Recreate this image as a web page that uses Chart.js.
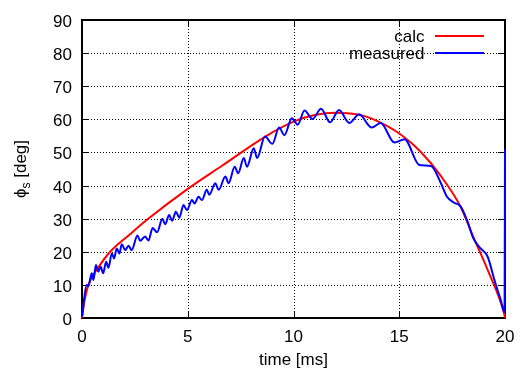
<!DOCTYPE html>
<html><head><meta charset="utf-8">
<script src="https://cdn.jsdelivr.net/npm/chart.js@4.4.1/dist/chart.umd.min.js"></script>
<style>html,body{margin:0;padding:0;background:#fff;overflow:hidden}</style>
</head><body>
<canvas id="c" width="517" height="368"></canvas>
<script>
// ---- data ----
const xTicks = [0, 5, 10, 15, 20];
const yTicks = [0, 10, 20, 30, 40, 50, 60, 70, 80, 90];
const seriesNames = ['calc', 'measured'];
const xTitle = 'time [ms]';
const yTitleMain = 'ϕ', yTitleSub = 's', yTitleRest = ' [deg]';

const calcT = [0, 0.1, 0.3, 0.78, 1.33, 2.27, 3.1, 5, 6.6, 8.67, 10, 11, 12, 13, 13.7, 15.05, 16, 16.93, 17.9, 18.5, 19.18, 19.95, 20];
const calcY = [0, 4.5, 10, 15.3, 20, 25.3, 29.8, 39, 45.9, 54.8, 59.3, 61.3, 62, 61.5, 60.2, 55.5, 50.3, 43.2, 33.6, 24.5, 14.5, 1.5, 0];

const measT = [0, 0.22, 0.30, 0.46, 0.54, 0.66, 0.77, 0.88, 1.0, 1.14, 1.25, 1.41, 1.52, 1.64, 1.77, 1.88, 2.04, 2.2, 2.35, 2.62, 2.75, 2.98, 3.14, 3.34, 3.55, 3.8, 3.93, 4.12, 4.26, 4.44, 4.6, 4.8, 4.96, 5.2, 5.32, 5.51, 5.67, 5.9, 6.02, 6.3, 6.46, 6.78, 6.93, 7.22, 7.38, 7.65, 7.8, 8.12, 8.28, 8.65, 9.0, 9.32, 9.57, 9.92, 10.2, 10.52, 10.9, 11.3, 11.73, 12.15, 12.64, 13.1, 13.7, 14.12, 14.77, 15.25, 15.95, 16.5, 16.97, 17.25, 17.57, 17.9, 18.2, 18.5, 18.8, 19.18, 19.5, 19.8, 19.98, 20];
const measY = [0.4, 10, 9.6, 13.5, 11.5, 16, 14, 15.5, 13.5, 17, 15.2, 19.5, 18, 21, 19.5, 22.3, 20.5, 21.8, 20.5, 24.9, 23.3, 24.6, 23.4, 27.2, 25.9, 30.0, 28.3, 31.1, 29.4, 32.1, 30.3, 34.1, 32.6, 35.6, 34.6, 36.6, 35.6, 38.7, 37.2, 40.7, 38.7, 42.7, 40.7, 45.7, 43.7, 48.3, 45.7, 51.3, 48.3, 54.8, 52.6, 57.5, 55.2, 60.3, 58.4, 62.7, 60.1, 63.2, 59.1, 62.8, 58.9, 61.5, 57.5, 58.9, 53, 54, 46.2, 45.9, 40.7, 36.7, 34.9, 33.7, 29.6, 24.1, 21.3, 18.5, 11.5, 5.4, 1.8, 51];

const colors = ['#ff0000', '#0000ff'];
const FONT_FAMILY = '"Liberation Sans", Arial, Helvetica, sans-serif';
const FONT = '17px ' + FONT_FAMILY;

const frame = {
  id: 'frame',
  beforeDatasetsDraw(chart) {
    const { ctx, chartArea: a, scales: { x, y } } = chart;
    ctx.save();
    // dotted grid
    ctx.strokeStyle = '#000';
    ctx.lineWidth = 1;
    ctx.setLineDash([1, 2]);
    ctx.beginPath();
    xTicks.forEach(v => {
      if (v <= x.min || v >= x.max) return;
      const px = Math.round(x.getPixelForValue(v)) + 0.5;
      ctx.moveTo(px, a.top); ctx.lineTo(px, a.bottom);
    });
    yTicks.forEach(v => {
      if (v <= y.min || v >= y.max) return;
      const py = Math.round(y.getPixelForValue(v)) + 0.5;
      ctx.moveTo(a.left, py); ctx.lineTo(a.right, py);
    });
    ctx.stroke();
    ctx.setLineDash([]);
    // inward tick marks on all sides
    ctx.beginPath();
    xTicks.forEach(v => {
      if (v <= x.min || v >= x.max) return;
      const px = Math.round(x.getPixelForValue(v)) + 0.5;
      ctx.moveTo(px, a.bottom); ctx.lineTo(px, a.bottom - 7);
      ctx.moveTo(px, a.top); ctx.lineTo(px, a.top + 7);
    });
    yTicks.forEach(v => {
      if (v <= y.min || v >= y.max) return;
      const py = Math.round(y.getPixelForValue(v)) + 0.5;
      ctx.moveTo(a.left, py); ctx.lineTo(a.left + 7, py);
      ctx.moveTo(a.right, py); ctx.lineTo(a.right - 7, py);
    });
    ctx.stroke();
    // border
    ctx.lineWidth = 2;
    ctx.strokeRect(a.left, a.top, a.right - a.left, a.bottom - a.top);
    // tick labels
    ctx.fillStyle = '#000';
    ctx.font = FONT;
    ctx.textBaseline = 'alphabetic';
    ctx.textAlign = 'right';
    yTicks.forEach(v => ctx.fillText(String(v), a.left - 10, y.getPixelForValue(v) + 7));
    ctx.textAlign = 'center';
    xTicks.forEach(v => ctx.fillText(String(v), x.getPixelForValue(v), a.bottom + 24));
    // x title
    ctx.fillText(xTitle, (a.left + a.right) / 2, 365);
    // y title with subscript, rotated
    ctx.save();
    ctx.translate(25.5, (a.top + a.bottom) / 2);
    ctx.rotate(-Math.PI / 2);
    ctx.textAlign = 'left';
    const subFont = '12px ' + FONT_FAMILY;
    ctx.font = FONT;
    const w1 = ctx.measureText(yTitleMain).width;
    const w3 = ctx.measureText(yTitleRest).width;
    ctx.font = subFont;
    const w2 = ctx.measureText(yTitleSub).width;
    let sx = -(w1 + w2 + w3) / 2;
    ctx.font = FONT;
    ctx.fillText(yTitleMain, sx, 0); sx += w1;
    ctx.font = subFont;
    ctx.fillText(yTitleSub, sx, 4); sx += w2;
    ctx.font = FONT;
    ctx.fillText(yTitleRest, sx, 0);
    ctx.restore();
    ctx.restore();
  },
  afterDatasetsDraw(chart) {
    const { ctx, chartArea: a } = chart;
    ctx.save();
    ctx.font = FONT;
    ctx.fillStyle = '#000';
    ctx.textAlign = 'right';
    ctx.textBaseline = 'alphabetic';
    const textX = a.right - 80.5, lx0 = a.right - 70, lx1 = a.right - 21;
    const rows = [a.top + 16, a.top + 33];
    seriesNames.forEach((n, i) => {
      ctx.fillText(n, textX, rows[i] + 6);
      ctx.strokeStyle = colors[i];
      ctx.lineWidth = 2;
      ctx.beginPath();
      ctx.moveTo(lx0, rows[i]); ctx.lineTo(lx1, rows[i]);
      ctx.stroke();
    });
    ctx.restore();
  }
};

new Chart(document.getElementById('c'), {
  type: 'line',
  data: {
    datasets: [
      { label: seriesNames[0], data: calcT.map((t, i) => ({ x: t, y: calcY[i] })), borderColor: colors[0], borderWidth: 2, pointRadius: 0, cubicInterpolationMode: 'monotone', fill: false, clip: false, order: 1 },
      { label: seriesNames[1], data: measT.map((t, i) => ({ x: t, y: measY[i] })), borderColor: colors[1], borderWidth: 2, pointRadius: 0, cubicInterpolationMode: 'monotone', fill: false, clip: false, order: 0 }
    ]
  },
  options: {
    responsive: false,
    animation: false,
    events: [],
    layout: { padding: { top: 20, right: 12, left: 0, bottom: 0 }, autoPadding: false },
    plugins: { legend: { display: false }, tooltip: { enabled: false } },
    scales: {
      x: {
        type: 'linear', min: 0, max: 20,
        ticks: { display: false, stepSize: 5 },
        grid: { display: false }, border: { display: false },
        afterFit(s) { s.height = 50; s.paddingLeft = 0; s.paddingRight = 0; }
      },
      y: {
        type: 'linear', min: 0, max: 90,
        ticks: { display: false, stepSize: 10 },
        grid: { display: false }, border: { display: false },
        afterFit(s) { s.width = 82; s.paddingTop = 0; s.paddingBottom = 0; }
      }
    }
  },
  plugins: [frame]
});
</script>
</body></html>
